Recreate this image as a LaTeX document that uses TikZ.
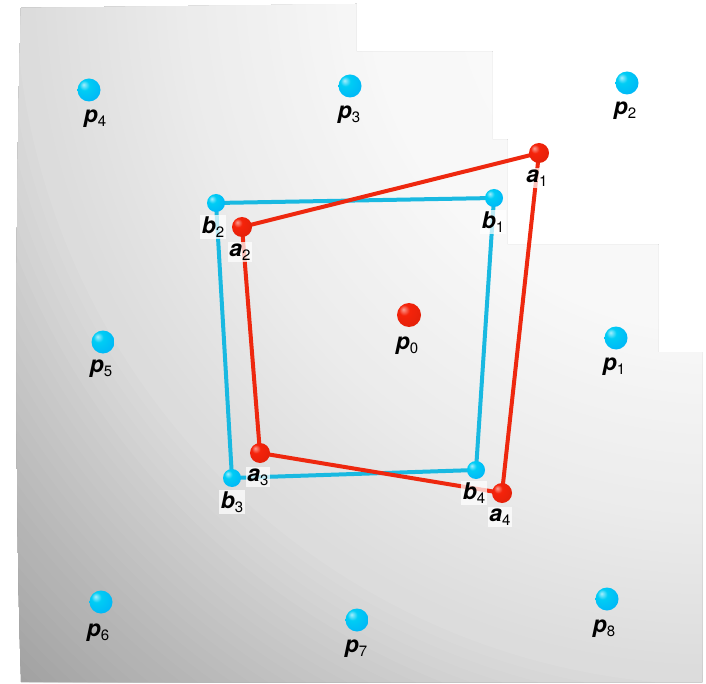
\documentclass[tikz,border=0pt]{standalone}
\usepackage{fontspec}
\setmainfont{TeX Gyre Heros}
\pgfdeclarelayer{bg}
\pgfdeclarelayer{lines}
\pgfsetlayers{bg,lines,main}
\definecolor{qred}{RGB}{238,40,15}
\definecolor{qcyan}{RGB}{25,185,225}
\definecolor{bcyan}{RGB}{0,205,245}
\definecolor{bred}{RGB}{245,35,10}
\pgfdeclareradialshading{cyanball}{\pgfpoint{-12bp}{12bp}}{%
  color(0bp)=(bcyan!35!white); color(11bp)=(bcyan); color(36bp)=(bcyan!88!blue);
  color(52bp)=(bcyan!75!blue!85!black); color(70bp)=(bcyan!75!blue!85!black)}
\pgfdeclareradialshading{redball}{\pgfpoint{-12bp}{12bp}}{%
  color(0bp)=(bred!45!white); color(11bp)=(bred); color(36bp)=(bred!92!black);
  color(52bp)=(bred!78!black); color(70bp)=(bred!78!black)}
\newcommand{\plab}[2]{{\fontsize{23}{23}\selectfont\bfseries\itshape #1}\raisebox{-4pt}{\fontsize{15}{15}\selectfont #2}}
\tikzset{
  cball/.style={circle, minimum size=23pt, inner sep=0pt, shading=cyanball},
  rball/.style={circle, minimum size=24pt, inner sep=0pt, shading=redball},
  vcball/.style={circle, minimum size=18pt, inner sep=0pt, shading=cyanball},
  vrball/.style={circle, minimum size=20pt, inner sep=0pt, shading=redball},
  plabel/.style={inner sep=1pt},
  vlabel/.style={inner sep=1.5pt, fill=white, fill opacity=0.72, text opacity=1},
  redline/.style={draw=qred, line width=4pt},
  cyanline/.style={draw=qcyan, line width=4pt}
}
\begin{document}
\begin{tikzpicture}[x=1pt,y=-1pt]
\useasboundingbox (0,0) rectangle (706,684);
\begin{pgfonlayer}{bg}
\begin{scope}
\clip (21,8) -- (356,4) -- (356,52) -- (492,52) -- (492,140) -- (507,140) -- (507,245) -- (658,245) -- (658,352) -- (702,352) -- (702,682) -- (21,682) .. controls (15,500) and (15,200) .. (21,8) -- cycle;
\foreach \r in {1010,1000,...,10} {
  \ifnum\r<350
    \pgfmathtruncatemacro\g{252-4*\r/350}%
  \else\ifnum\r<530
    \pgfmathtruncatemacro\g{248-12*(\r-350)/180}%
  \else\ifnum\r<700
    \pgfmathtruncatemacro\g{236-16*(\r-530)/170}%
  \else\ifnum\r<800
    \pgfmathtruncatemacro\g{220-22*(\r-700)/100}%
  \else
    \pgfmathtruncatemacro\g{198-38*(\r-800)/200}%
  \fi\fi\fi\fi
  \definecolor{bgc}{RGB}{\g,\g,\g}%
  \fill[bgc] (720,-20) circle[radius=\r+5];
}
\end{scope}
\end{pgfonlayer}

% grid spheres
\node[cball] (p4) at (89,90) {};
\node[cball] (p3) at (350,86) {};
\node[cball] (p2) at (627,83) {};
\node[cball] (p5) at (103,342) {};
\node[rball] (p0) at (409,315) {};
\node[cball] (p1) at (616,338) {};
\node[cball] (p6) at (101,602) {};
\node[cball] (p7) at (357,620) {};
\node[cball] (p8) at (607,599) {};

\node[plabel] (lp4) at (95,119) {\plab{p}{4}};
\node[plabel] (lp3) at (349,115) {\plab{p}{3}};
\node[plabel] (lp2) at (625,111) {\plab{p}{2}};
\node[plabel] (lp5) at (101,369) {\plab{p}{5}};
\node[plabel] (lp0) at (407,346) {\plab{p}{0}};
\node[plabel] (lp1) at (614,367) {\plab{p}{1}};
\node[plabel] (lp6) at (98,633) {\plab{p}{6}};
\node[plabel] (lp7) at (356,649) {\plab{p}{7}};
\node[plabel] (lp8) at (604,629) {\plab{p}{8}};

% quadrilateral vertices
\node[vrball] (a1) at (539,153) {};
\node[vrball] (a2) at (242,227) {};
\node[vrball] (a3) at (260,453) {};
\node[vrball] (a4) at (502,493) {};
\node[vcball] (b1) at (494,198) {};
\node[vcball] (b2) at (216,203) {};
\node[vcball] (b3) at (232,478) {};
\node[vcball] (b4) at (476,470) {};

\begin{pgfonlayer}{lines}
\draw[cyanline] (b1.center) -- (b2.center) -- (b3.center) -- (b4.center) -- cycle;
\draw[redline] (a1.center) -- (a2.center) -- (a3.center) -- (a4.center) -- cycle;
\end{pgfonlayer}

\node[vlabel] (la1) at (537,178) {\plab{a}{1}};
\node[vlabel] (la2) at (240,252) {\plab{a}{2}};
\node[vlabel] (la3) at (258,477) {\plab{a}{3}};
\node[vlabel] (la4) at (500,517) {\plab{a}{4}};
\node[vlabel] (lb1) at (493,222) {\plab{b}{1}};
\node[vlabel] (lb2) at (213,227) {\plab{b}{2}};
\node[vlabel] (lb3) at (232,502) {\plab{b}{3}};
\node[vlabel] (lb4) at (474,493) {\plab{b}{4}};
\end{tikzpicture}
\end{document}
